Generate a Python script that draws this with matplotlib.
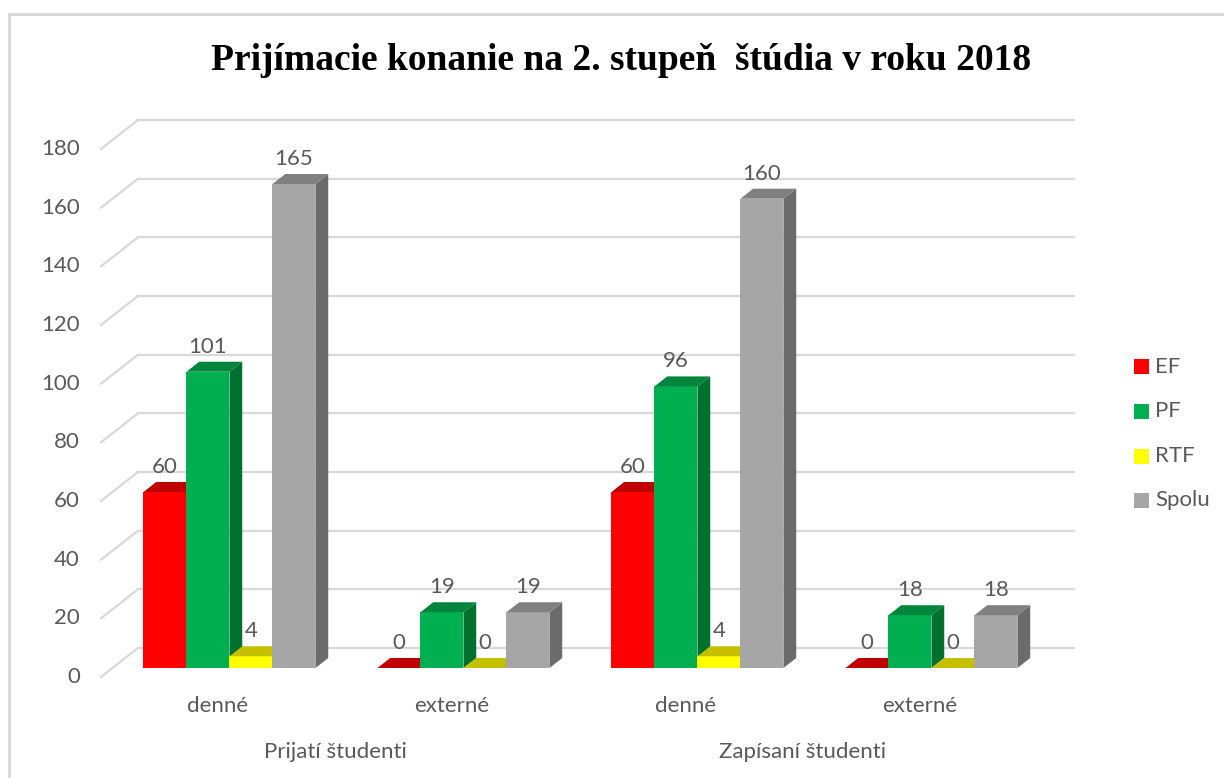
import matplotlib
matplotlib.use('Agg')
import matplotlib.pyplot as plt
from matplotlib.patches import Polygon, Rectangle
from matplotlib.lines import Line2D

# ---- data ----
categories = ['denné', 'externé', 'denné', 'externé']
groups = ['Prijatí študenti', 'Zapísaní študenti']
series = ['EF', 'PF', 'RTF', 'Spolu']
ef = [60, 0, 60, 0]
pf = [101, 19, 96, 18]
rtf = [4, 0, 4, 0]
spolu = [165, 19, 160, 18]
yticks = [0, 20, 40, 60, 80, 100, 120, 140, 160, 180]
title = 'Prijímacie konanie na 2. stupeň  štúdia v roku 2018'

values = [ef, pf, rtf, spolu]
front_colors = ['#FF0000', '#00B050', '#FFFF00', '#A6A6A6']
top_colors = ['#C00000', '#00863C', '#C4C000', '#808080']
side_colors = ['#A80000', '#00702F', '#A8A400', '#6B6B6B']

TXT = '#595959'
GRID = '#D9D9D9'
FONT = 'Lato'
FS = 16

W_PX, H_PX, DPI = 1224, 778, 100
fig = plt.figure(figsize=(W_PX / DPI, H_PX / DPI), dpi=DPI)
fig.patch.set_facecolor('white')

# plot area (floor front plane)
left_px, right_px, zero_px, top_px = 101, 1037, 677, 149
ax = fig.add_axes([left_px / W_PX, (H_PX - zero_px) / H_PX,
                   (right_px - left_px) / W_PX, (zero_px - top_px) / H_PX])
ax.set_xlim(-0.5, 3.5)
ax.set_ylim(0, 180)
ax.axis('off')

px_x = (right_px - left_px) / 4.0          # px per category unit
px_y = (zero_px - top_px) / 180.0          # px per value unit
DX = 37 / px_x                              # full depth offset (x)
DY = 29 / px_y                              # full depth offset (y)
d_front, d_back = 0.31, 0.655
dd = d_back - d_front
BW = 43 / px_x

# gridlines on back wall + side wall diagonals
for t in yticks:
    ax.add_line(Line2D([-0.5 + DX, 3.5 + DX], [t + DY, t + DY], color=GRID,
                       lw=1.6, zorder=1, clip_on=False))
    ax.add_line(Line2D([-0.5, -0.5 + DX], [t, t + DY], color=GRID,
                       lw=1.6, zorder=1, clip_on=False))
    ax.annotate(str(t), xy=(-0.5, t), xytext=(-21 * 72 / DPI, 0),
                textcoords='offset points', ha='right', va='center',
                fontsize=FS, color=TXT, family=FONT)

# bars
z = 2
for i in range(len(categories)):
    for j in range(len(series)):
        v = values[j][i]
        x0 = i - 2 * BW + j * BW + d_front * DX
        yb = d_front * DY
        # front
        if v > 0:
            ax.add_patch(Rectangle((x0, yb), BW, v, facecolor=front_colors[j],
                                   edgecolor='none', zorder=z, clip_on=False))
        # side
        side = [(x0 + BW, yb), (x0 + BW + dd * DX, yb + dd * DY),
                (x0 + BW + dd * DX, yb + v + dd * DY), (x0 + BW, yb + v)]
        if v > 0:
            ax.add_patch(Polygon(side, closed=True, facecolor=side_colors[j],
                                 edgecolor='none', zorder=z, clip_on=False))
        # top
        top = [(x0, yb + v), (x0 + BW, yb + v),
               (x0 + BW + dd * DX, yb + v + dd * DY), (x0 + dd * DX, yb + v + dd * DY)]
        ax.add_patch(Polygon(top, closed=True, facecolor=top_colors[j],
                             edgecolor='none', zorder=z, clip_on=False))
        z += 1
        ax.annotate(str(v), xy=(x0 + BW / 2, yb + v), xytext=(0, 25 * 72 / DPI),
                    textcoords='offset points', ha='center', va='center',
                    fontsize=FS, color=TXT, family=FONT, zorder=50)

# category labels
for i, c in enumerate(categories):
    ax.annotate(c, xy=(i, 0), xytext=(0, -29 * 72 / DPI), textcoords='offset points',
                ha='center', va='center', fontsize=FS, color=TXT, family=FONT)
for g, name in enumerate(groups):
    ax.annotate(name, xy=(2 * g + 0.5, 0), xytext=(0, -75 * 72 / DPI),
                textcoords='offset points', ha='center', va='center',
                fontsize=FS, color=TXT, family=FONT)

# legend
leg_x, leg_ys = 1134, [367, 411, 456, 500]
for j, s in enumerate(series):
    y = leg_ys[j]
    fig.add_artist(Rectangle((leg_x / W_PX, (H_PX - y - 7.5) / H_PX), 15 / W_PX, 15 / H_PX,
                             transform=fig.transFigure, facecolor=front_colors[j],
                             edgecolor='none'))
    fig.text(1155 / W_PX, (H_PX - y) / H_PX, s, ha='left', va='center',
             fontsize=FS, color=TXT, family=FONT)

# title
fig.text(621 / W_PX, 1 - 60 / H_PX, title, ha='center', va='center',
         fontsize=27, fontweight='bold', family='Liberation Serif', color='black')

# chart border
fig.add_artist(Line2D([9 / W_PX, 9 / W_PX], [0, 1 - 14 / H_PX], transform=fig.transFigure,
                      color=GRID, lw=2.2))
fig.add_artist(Line2D([9 / W_PX, 1], [1 - 14 / H_PX, 1 - 14 / H_PX], transform=fig.transFigure,
                      color=GRID, lw=2.2))

fig.savefig('out.png', dpi=DPI, facecolor='white')
